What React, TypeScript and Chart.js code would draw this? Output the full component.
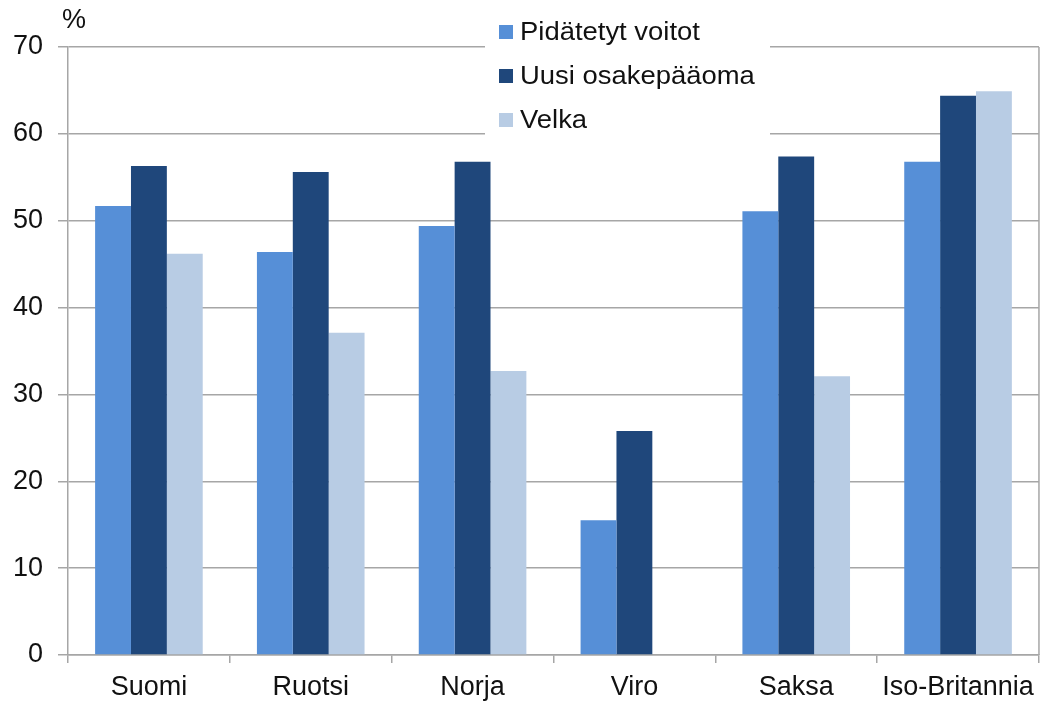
import React, { useEffect, useRef } from "react";
import { Chart, registerables } from "chart.js";

Chart.register(...registerables);

const categories = ["Suomi", "Ruotsi", "Norja", "Viro", "Saksa", "Iso-Britannia"];
const seriesNames = ["Pidätetyt voitot", "Uusi osakepääoma", "Velka"];
const retainedEarnings = [51.7, 46.4, 49.4, 15.5, 51.1, 56.8];
const newEquity = [56.3, 55.6, 56.8, 25.8, 57.4, 64.4];
const debt = [46.2, 37.1, 32.7, 0, 32.1, 64.9];
const colors = ["#568FD7", "#1F477B", "#B8CCE4"];
const yTicks = [0, 10, 20, 30, 40, 50, 60, 70];
const unitLabel = "%";

const FONT = "'Liberation Sans', Arial, sans-serif";

const overlayPlugin = {
  id: "overlay",
  beforeDatasetsDraw(chart: any) {
    const ctx = chart.ctx;
    const area = chart.chartArea;
    ctx.save();
    ctx.fillStyle = "#ffffff";
    ctx.fillRect(485, 0, 285, 150);
    ctx.strokeStyle = "#A6A6A6";
    ctx.lineWidth = 1.5;
    ctx.beginPath();
    ctx.moveTo(area.right, area.top);
    ctx.lineTo(area.right, area.bottom);
    ctx.stroke();
    ctx.restore();
  },
  afterDraw(chart: any) {
    const ctx = chart.ctx;
    ctx.save();
    ctx.font = "27px " + FONT;
    ctx.fillStyle = "#111111";
    ctx.textAlign = "left";
    ctx.textBaseline = "alphabetic";
    ctx.fillText(unitLabel, 62, 28);
    ctx.font = "26px " + FONT;
    const rows = [32, 76, 120];
    ctx.textBaseline = "middle";
    seriesNames.forEach((name, i) => {
      ctx.fillStyle = colors[i];
      ctx.fillRect(499, rows[i] - 7, 14, 14);
      ctx.fillStyle = "#111111";
      ctx.save();
      ctx.translate(520, rows[i] + 1);
      ctx.scale(1.055, 1);
      ctx.fillText(name, 0, 0);
      ctx.restore();
    });
    ctx.restore();
  },
};

export default function App() {
  const ref = useRef<HTMLCanvasElement>(null);
  useEffect(() => {
    if (!ref.current) return;
    const chart = new Chart(ref.current, {
      type: "bar",
      data: {
        labels: categories,
        datasets: [
          { label: seriesNames[0], data: retainedEarnings, backgroundColor: colors[0] },
          { label: seriesNames[1], data: newEquity, backgroundColor: colors[1] },
          { label: seriesNames[2], data: debt, backgroundColor: colors[2] },
        ],
      },
      options: {
        responsive: false,
        animation: false,
        events: [],
        layout: { padding: { top: 47, right: 2, left: 0, bottom: 0 } },
        datasets: { bar: { categoryPercentage: 0.665, barPercentage: 1 } },
        plugins: { legend: { display: false }, tooltip: { enabled: false } },
        scales: {
          x: {
            grid: { drawOnChartArea: false, drawTicks: true, tickLength: 8, color: "#A6A6A6", lineWidth: 1.5 },
            border: { color: "#A6A6A6", width: 1.5 },
            ticks: { font: { family: FONT, size: 27 }, color: "#111111", padding: 8 },
            afterFit(scale: any) { scale.height = 49; },
          },
          y: {
            min: 0,
            max: 70,
            afterBuildTicks(scale: any) { scale.ticks = yTicks.map((v) => ({ value: v })); },
            grid: { color: "#A6A6A6", lineWidth: 1.5, tickLength: 10 },
            border: { color: "#A6A6A6", width: 1.5 },
            ticks: { font: { family: FONT, size: 27 }, color: "#111111", padding: 15 },
            afterFit(scale: any) { scale.width = 68; },
          },
        },
      },
      plugins: [overlayPlugin],
    });
    return () => chart.destroy();
  }, []);
  return (
    <div style={{ position: "absolute", left: 0, top: 0, width: 1042, height: 704, background: "#fff" }}>
      <canvas ref={ref} width={1042} height={704} />
    </div>
  );
}
